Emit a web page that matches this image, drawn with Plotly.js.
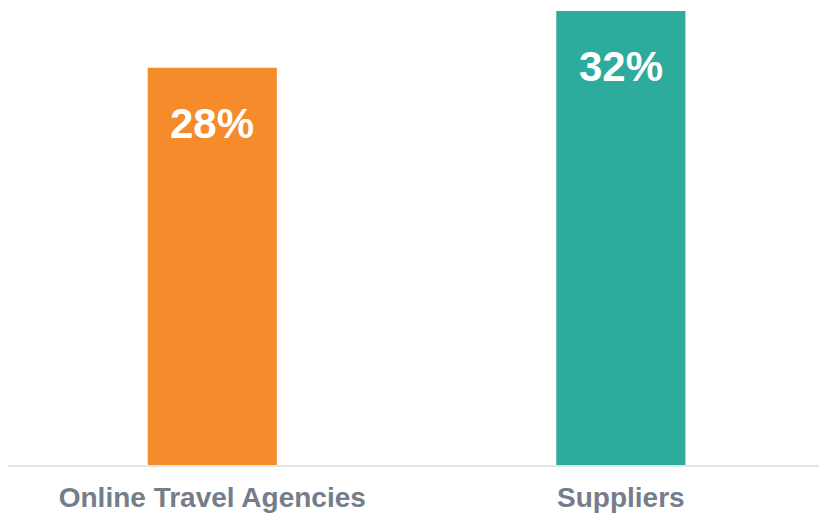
<!DOCTYPE html>
<html>
<head>
<meta charset="utf-8">
<script src="https://cdn.plot.ly/plotly-3.0.1.min.js"></script>
<style>html,body{margin:0;padding:0;background:#fff;}#chart{width:819px;height:513px;}</style>
</head>
<body>
<div id="chart"></div>
<script>
const categories = ["Online Travel Agencies", "Suppliers"];
const values = [28, 32];
const labels = ["28%", "32%"];
const colors = ["#F68B2C", "#2DAB9C"];

const trace = {
  type: "bar",
  x: categories,
  y: values,
  marker: {color: colors},
  width: 0.316,
  hoverinfo: "none"
};

const annotations = categories.map((c, i) => ({
  x: c, y: values[i], xref: "x", yref: "y",
  text: "<b>" + labels[i] + "</b>",
  showarrow: false,
  yanchor: "top",
  yshift: -30,
  font: {family: "Liberation Sans, Arial, sans-serif", size: 42, color: "#ffffff"}
}));

const layout = {
  width: 819, height: 513,
  margin: {l: 8, r: 0, t: 11, b: 48},
  paper_bgcolor: "#ffffff",
  plot_bgcolor: "#ffffff",
  showlegend: false,
  xaxis: {
    type: "category",
    range: [-0.5, 1.485],
    showline: true, linecolor: "#e1e4e8", linewidth: 2,
    showgrid: false, zeroline: false,
    ticks: "", automargin: false,
    ticklabelstandoff: 6,
    tickfont: {family: "Liberation Sans, Arial, sans-serif", size: 28, color: "#747e8b", weight: "bold"}
  },
  yaxis: {
    range: [0, 32],
    visible: false, showgrid: false, zeroline: false
  },
  annotations: annotations
};

Plotly.newPlot("chart", [trace], layout, {staticPlot: true, displayModeBar: false});
</script>
</body>
</html>
